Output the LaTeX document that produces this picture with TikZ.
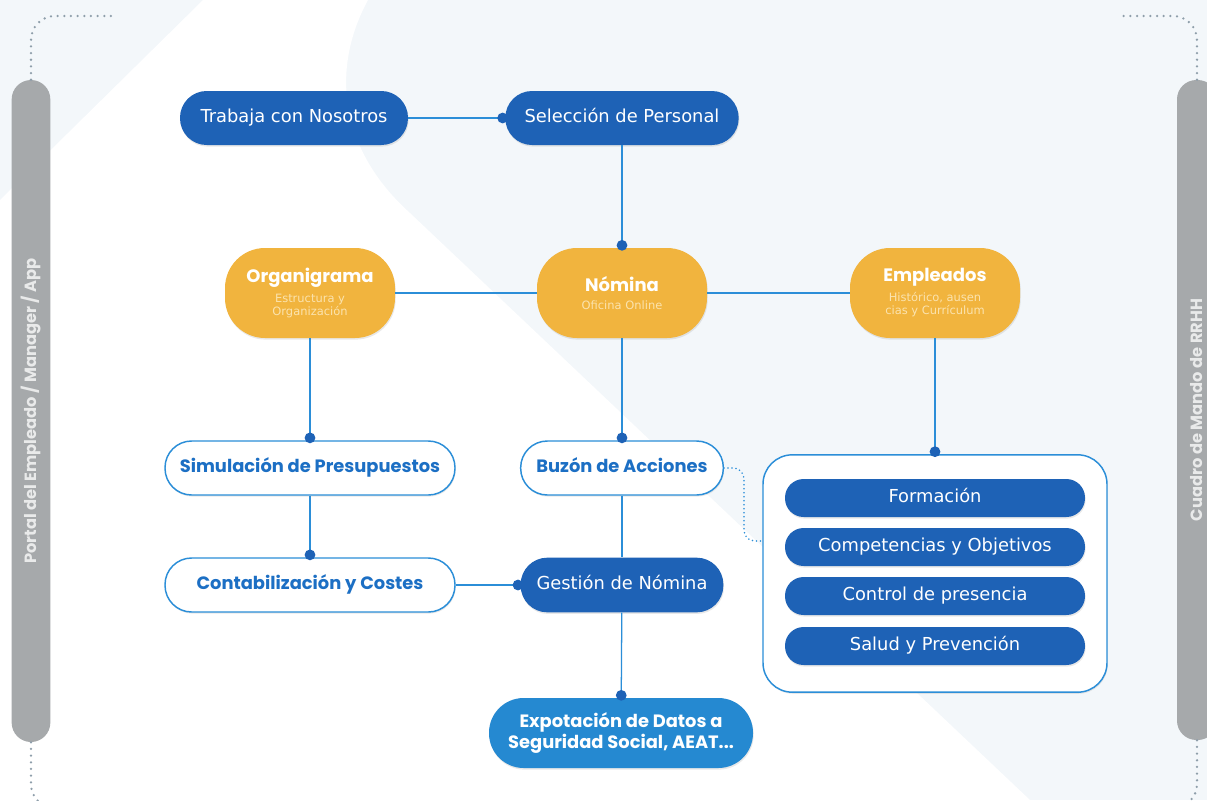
\documentclass[tikz,border=0pt]{standalone}
\usepackage{fontspec}
\setmainfont{Poppins}
\newfontfamily\verdana{DejaVu Sans}
\usetikzlibrary{arrows.meta,shadows}

\definecolor{darkblue}{HTML}{1E62B6}
\definecolor{lineblue}{HTML}{2B8ED8}
\definecolor{amber}{HTML}{F1B43E}
\definecolor{subamber}{HTML}{FBE3AE}
\definecolor{midblue}{HTML}{2589D1}
\definecolor{textblue}{HTML}{1C6FC4}
\definecolor{bargray}{HTML}{A6A9AB}
\definecolor{bartext}{HTML}{E9EAEA}
\definecolor{pale}{HTML}{F3F7FA}
\definecolor{framegray}{HTML}{8E9EAA}

\newcommand\modtitle{\fontspec{Poppins}\bfseries\fontsize{13.5}{17}\selectfont\color{white}}

\tikzset{
	softshadow/.style={drop shadow={opacity=0.18, shadow xshift=0.5pt, shadow yshift=-1.2pt}},
	pill/.style={rectangle, rounded corners=20pt, minimum height=40.5pt, align=center, softshadow},
	oneline/.style={text height=10pt, text depth=3pt},
	darkpill/.style={pill, oneline, fill=darkblue, text=white, font=\verdana\fontsize{13.4}{16}\selectfont},
	whitepill/.style={pill, oneline, fill=white, draw=lineblue, line width=1.1pt, text=textblue, font=\bfseries\fontsize{13.4}{16}\selectfont},
	modpill/.style={rectangle, rounded corners=30pt, fill=amber, minimum width=127.5pt, minimum height=67.5pt, align=center, text=subamber, font=\verdana\fontsize{8.6}{9.8}\selectfont, softshadow},
	itempill/.style={darkpill, rounded corners=14pt, minimum height=28.5pt, minimum width=225pt},
	sidebar/.style={rectangle, rotate=90, fill=bargray, text=bartext, rounded corners=14.5pt, font=\bfseries\fontsize{12.2}{14}\selectfont},
	link/.style={draw=lineblue, line width=0.95pt},
	dotlink/.style={link, -{Circle[length=8pt, color=darkblue]}, shorten >=-2.2pt},
	looplink/.style={draw=lineblue, line width=1.3pt, line cap=round, dash pattern=on 0pt off 3pt, rounded corners=8pt},
	framedots/.style={draw=framegray, line width=1.9pt, line cap=round, dash pattern=on 0pt off 5pt, rounded corners=18pt}
}

\begin{document}
\begin{tikzpicture}[x=0.75pt, y=-0.75pt]
	\useasboundingbox (0,0) rectangle (1207,800);
	% background
	\fill[pale] (0,0) rectangle (1207,800);
	\fill[white] (203,0) -- (368,0) .. controls (330,70) and (340,150) .. (410,213) -- (1030,800) -- (0,800) -- (0,200) -- cycle;

	% side bars and frame
	\node (portal) [sidebar, minimum width=496.5pt, minimum height=29pt] at (31,411) {Portal del Empleado / Manager / App};
	\node (cuadro) [sidebar, minimum width=495pt, minimum height=30pt] at (1197,410) {Cuadro de Mando de RRHH};
	\coordinate (ltop) at (112,16);
	\coordinate (lbot) at (80,808);
	\coordinate (rtop) at (1118,16);
	\coordinate (rbot) at (1150,808);
	\draw[framedots] (portal.east) |- (ltop);
	\draw[framedots] (portal.west) |- (lbot);
	\draw[framedots] (cuadro.east) |- (rtop);
	\draw[framedots] (cuadro.west) |- (rbot);

	% top row
	\node (trabaja) [darkpill, minimum width=171pt] at (294,118) {Trabaja con Nosotros};
	\node (seleccion) [darkpill, minimum width=175pt] at (622,118) {Selección de Personal};

	% modules
	\node (organigrama) [modpill] at (310,293) {{\modtitle Organigrama}\\[3.5pt]Estructura y\\Organización};
	\node (nomina) [modpill] at (622,293) {{\modtitle Nómina}\\[3.5pt]Oficina Online};
	\node (empleados) [modpill] at (935,293) {{\modtitle Empleados}\\[3.5pt]Histórico, ausen\\cias y Currículum};

	% second level
	\node (simulacion) [whitepill, minimum width=217.5pt] at (310,468) {Simulación de Presupuestos};
	\node (buzon) [whitepill, minimum width=152pt] at (622,468) {Buzón de Acciones};
	\node (contabilizacion) [whitepill, minimum width=217.5pt] at (310,585) {Contabilización y Costes};
	\node (gestion) [darkpill, minimum width=152pt, minimum height=41pt] at (622,585) {Gestión de Nómina};
	\node (exportacion) [pill, fill=midblue, text=white, rounded corners=26pt, minimum width=198pt, minimum height=52.5pt, font=\bfseries\fontsize{13.4}{16}\selectfont] at (621,733) {Expotación de Datos a\\Seguridad Social, AEAT...};

	% employee box
	\node (empbox) [rectangle, rounded corners=22pt, draw=lineblue, line width=1.1pt, fill=white, minimum width=258pt, minimum height=178pt, softshadow] at (935,573.5) {};
	\node (formacion) [itempill] at (935,498) {Formación};
	\node (competencias) [itempill] at (935,547) {Competencias y Objetivos};
	\node (control) [itempill] at (935,596) {Control de presencia};
	\node (salud) [itempill] at (935,646) {Salud y Prevención};

	% connectors
	\draw[dotlink] (trabaja) -- (seleccion);
	\draw[dotlink] (seleccion) -- (nomina);
	\draw[link] (organigrama) -- (nomina);
	\draw[link] (nomina) -- (empleados);
	\draw[dotlink] (organigrama) -- (simulacion);
	\draw[dotlink] (nomina) -- (buzon);
	\draw[dotlink] (empleados) -- (empbox);
	\draw[dotlink] (simulacion) -- (contabilizacion);
	\draw[link] (buzon) -- (gestion);
	\draw[dotlink] (contabilizacion) -- (gestion);
	\draw[dotlink] (gestion) -- (exportacion);
	\coordinate (bend) at (744,541);
	\draw[looplink] (buzon.east) -| (bend) -- (bend -| empbox.west);
\end{tikzpicture}
\end{document}
